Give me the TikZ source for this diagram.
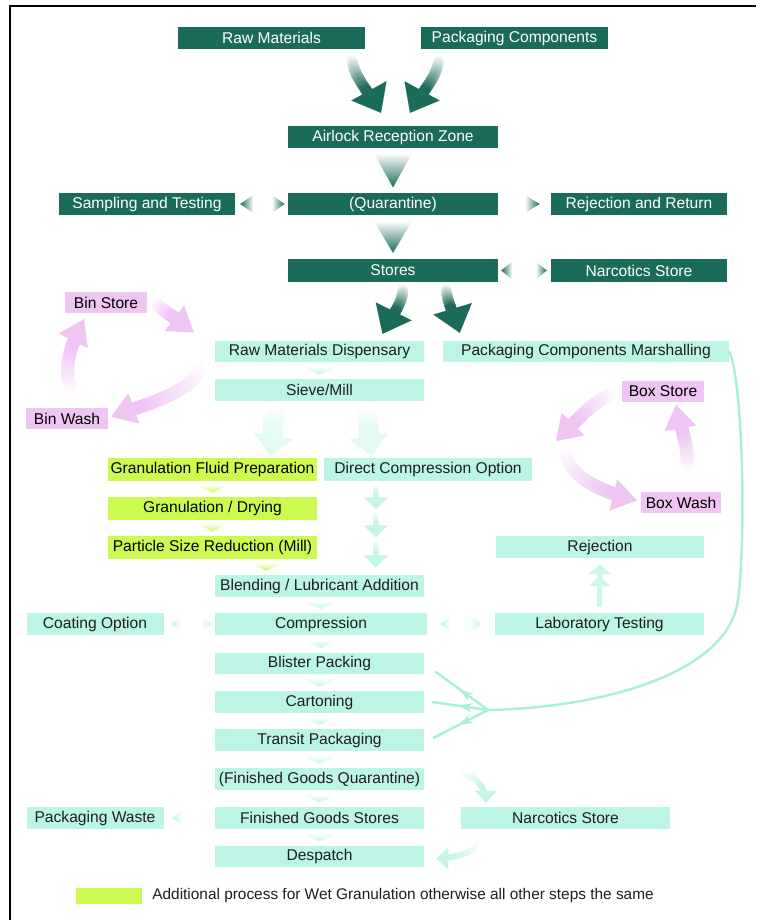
\documentclass[tikz,border=0pt]{standalone}
\usepackage{fontspec}
\setmainfont{Liberation Sans}
\usetikzlibrary{calc,positioning,arrows.meta,decorations.markings}

\definecolor{tealdark}{RGB}{27,107,91}
\definecolor{mintbox}{RGB}{188,245,229}
\definecolor{mintarrow}{RGB}{196,245,232}
\definecolor{mintline}{RGB}{172,240,220}
\definecolor{limebox}{RGB}{204,250,78}
\definecolor{pinkfill}{RGB}{239,197,243}
\definecolor{textgrey}{RGB}{30,30,30}

\begin{document}
\begin{tikzpicture}[x=1pt, y=-1pt,
    tbox/.style={rectangle, inner sep=0pt, minimum height=22pt,
        font=\fontsize{15.6}{18}\selectfont},
    darkbx/.style={tbox, fill=tealdark, text=white},
    mintbx/.style={tbox, fill=mintbox, text=textgrey},
    limebx/.style={tbox, fill=limebox, text=black},
    pinkbx/.style={tbox, fill=pinkfill, text=black, minimum height=21pt},
    % colour, shaft radius, head width, head length
    fadearrow/.style n args={4}{draw=#1, line width=0.01pt,
        -{Triangle[width=#3, length=#4]},
        postaction={decorate, decoration={markings,
            mark=between positions 0 and -#4 step 0.4pt with {
                \pgfmathsetmacro\fadepct{min(100,100*\pgfkeysvalueof{/pgf/decoration/mark info/distance from start}/(\pgfdecoratedpathlength-#4))}
                \fill[#1!\fadepct!white] (0,0) circle (#2);}}}},
    feedline/.style={draw=mintline, line width=2.5pt},
    midtip/.style={postaction={decorate, decoration={markings,
        mark=at position 0.55 with {\arrow{Stealth[length=15pt, width=9pt]}}}}}]

    \useasboundingbox (0,0) rectangle (756,920);
    \draw[line width=1.6pt] (10,920) -- (10,6) -- (756,6);

    % goods in
    \node[darkbx, minimum width=187pt] (raw) at (271.5,38) {Raw Materials};
    \node[darkbx, minimum width=187pt] (pack) at (514.5,38) {Packaging Components};
    \node[darkbx, minimum width=210pt] (airlock) at (393,137) {Airlock Reception Zone};
    \node[darkbx, minimum width=210pt] (quar) at (393,204) {(Quarantine)};
    \node[darkbx, minimum width=176pt] (samp) at (147,204) {Sampling and Testing};
    \node[darkbx, minimum width=176pt] (rejret) at (639,204) {Rejection and Return};
    \node[darkbx, minimum width=210pt, minimum height=23pt] (stores) at (393,270.5) {Stores};
    \node[darkbx, minimum width=176pt, minimum height=23pt] (narcup) at (639,270.5) {Narcotics Store};

    % dispensing
    \node[mintbx, minimum width=209pt, minimum height=21pt] (disp) at (319.5,351.5) {Raw Materials Dispensary};
    \node[mintbx, minimum width=286pt, minimum height=21pt] (marsh) at (586,351.5) {Packaging Components Marshalling};
    \node[mintbx, minimum width=209pt] (sieve) at (319.5,390) {Sieve/Mill};
    \node[pinkbx, minimum width=82pt] (binstore) at (106,302.5) {Bin Store};
    \node[pinkbx, minimum width=82pt] (binwash) at (67,418.5) {Bin Wash};
    \node[pinkbx, minimum width=82pt] (boxstore) at (663,391) {Box Store};
    \node[pinkbx, minimum width=80pt] (boxwash) at (681,502.5) {Box Wash};

    % wet granulation / direct compression
    \node[limebx, minimum width=209pt, minimum height=23pt] (gfp) at (212.5,469.5) {Granulation Fluid Preparation};
    \node[limebx, minimum width=209pt, minimum height=23pt] (gdry) at (212.5,508) {Granulation / Drying};
    \node[limebx, minimum width=209pt, minimum height=23pt] (psize) at (212.5,547) {Particle Size Reduction (Mill)};
    \node[mintbx, minimum width=208pt, minimum height=23pt] (dco) at (428,469.5) {Direct Compression Option};
    \node[mintbx, minimum width=208pt] (rejct) at (600,547) {Rejection};

    % tabletting and packing
    \node[mintbx, minimum width=209pt] (blend) at (319.5,586) {Blending / Lubricant Addition};
    \node[mintbx, minimum width=212pt] (compr) at (321,624) {Compression};
    \node[mintbx, minimum width=137pt] (coat) at (95,624) {Coating Option};
    \node[mintbx, minimum width=209pt] (lab) at (599.5,624) {Laboratory Testing};
    \node[mintbx, minimum width=209pt, minimum height=21pt] (blister) at (319.5,663.5) {Blister Packing};
    \node[mintbx, minimum width=209pt] (carton) at (319.5,702) {Cartoning};
    \node[mintbx, minimum width=209pt] (transit) at (319.5,740) {Transit Packaging};
    \node[mintbx, minimum width=209pt] (fgq) at (319.5,779) {(Finished Goods Quarantine)};
    \node[mintbx, minimum width=137pt] (waste) at (95,818) {Packaging Waste};
    \node[mintbx, minimum width=209pt] (fgs) at (319.5,818) {Finished Goods Stores};
    \node[mintbx, minimum width=209pt] (narclow) at (565.5,818) {Narcotics Store};
    \node[mintbx, minimum width=209pt, minimum height=21pt] (desp) at (319.5,856.5) {Despatch};

    % key
    \node[limebx, minimum width=66pt, minimum height=16pt] (legkey) at (109,896) {};
    \node[right=10pt of legkey, inner sep=0pt, text=textgrey,
        font=\fontsize{15.4}{18}\selectfont] (legtext)
        {Additional process for Wet Granulation otherwise all other steps the same};

    % big curved arrows
    \draw[fadearrow={tealdark}{5.5pt}{40pt}{25pt}] ($(raw.south east)+(-13,11)$)
        .. controls +(2,18) and +(-11,-20) .. ($(airlock.north)+(-12,-13)$);
    \draw[fadearrow={tealdark}{5.5pt}{40pt}{25pt}] ($(pack.south west)+(18,11)$)
        .. controls +(-2,18) and +(11,-20) .. ($(airlock.north)+(17,-13)$);
    \draw[fadearrow={tealdark}{5.5pt}{40pt}{25pt}] ($(stores.south)+(10,7)$)
        .. controls +(-1,16) and +(10,-20) .. ($(disp.north)+(63,-7)$);
    \draw[fadearrow={tealdark}{5.5pt}{40pt}{25pt}] ($(stores.south)+(53,7)$)
        .. controls +(2,16) and +(-6,-20) .. ($(marsh.north west)+(17,-8)$);
    \draw[fadearrow={mintarrow!45!white}{10pt}{40pt}{20pt}] ($(sieve.south)+(-46,12)$)
        .. controls +(0,12) and +(2,-12) .. ($(gfp.north east)+(-47,-2)$);
    \draw[fadearrow={mintarrow!45!white}{10pt}{40pt}{20pt}] ($(sieve.south)+(48,12)$)
        .. controls +(0,12) and +(-2,-12) .. ($(dco.north west)+(48,-2)$);

    % bin and box cycles
    \draw[fadearrow={pinkfill}{6.5pt}{32pt}{24pt}] ($(binstore.east)+(9,2)$)
        -- ($(disp.west)+(-21,-19)$);
    \draw[fadearrow={pinkfill}{6.5pt}{32pt}{24pt}] ($(disp.south west)+(-15,4)$)
        .. controls +(-3,26) and +(28,-10) .. ($(binwash.east)+(3,-2)$);
    \draw[fadearrow={pinkfill}{6.5pt}{32pt}{24pt}] ($(binwash.north)+(5,-18)$)
        .. controls +(-12,-25) and +(-8,16) .. ($(binstore.south)+(-22,6)$);
    \coordinate (boxbend) at (560,446);
    \draw[fadearrow={pinkfill}{6.5pt}{32pt}{24pt}] ($(boxstore.west)+(-9,3)$)
        .. controls +(-15,3) and +(18,-18) .. ($(boxbend)+(-4,-5)$);
    \draw[fadearrow={pinkfill}{6.5pt}{32pt}{24pt}] ($(boxbend)+(6,4)$)
        .. controls +(0,30) and +(-25,-6) .. ($(boxwash.west)+(-4,-2)$);
    \draw[fadearrow={pinkfill}{6.5pt}{32pt}{24pt}] ($(boxwash.north)+(6,-25)$)
        .. controls +(2,-20) and +(4,22) .. ($(boxstore.south)+(13,3)$);

    % chevrons between stacked boxes
    \foreach \a/\b/\c/\w/\h in {airlock/quar/tealdark/19/17, quar/stores/tealdark/19/16,
            disp/sieve/mintarrow/18/4, gfp/gdry/limebox/16/4, gdry/psize/limebox/16/4,
            psize/blend/limebox/17/4, blend/compr/mintarrow/18/4, compr/blister/mintarrow/18/4,
            blister/carton/mintarrow/18/4, carton/transit/mintarrow/18/4,
            transit/fgq/mintarrow/18/4, fgq/fgs/mintarrow/18/4, fgs/desp/mintarrow/18/4}
        \shade[top color=white, bottom color=\c]
            ($(\a.south)!0.5!(\b.north)+(-\w,-\h)$) -- ($(\a.south)!0.5!(\b.north)+(\w,-\h)$)
            -- ($(\a.south)!0.5!(\b.north)+(0,\h)$) -- cycle;

    % side chevrons
    \foreach \p/\ax/\bx/\lc/\rc/\h in {samp.east/5/18/tealdark/white/9,
            quar.west/-3/-16/white/tealdark/9, rejret.west/-11/-26/white/tealdark/9,
            stores.east/3/14/tealdark/white/9, narcup.west/-4/-15/white/tealdark/9,
            coat.east/7/18/mintarrow/white/8, compr.west/-3/-14/white/mintarrow/8,
            compr.east/13/24/mintarrow/white/8, lab.west/-13/-25/white/mintarrow/8,
            waste.east/8/19/mintarrow/white/8}
        \shade[left color=\lc, right color=\rc] ($(\p)+(\ax,0)$)
            -- ($(\p)+(\bx,-\h)$) -- ($(\p)+(\bx,\h)$) -- cycle;

    % direct compression route
    \coordinate (dcoout) at ($(dco.south west)+(52,0)$);
    \coordinate (blendin) at (dcoout |- blend.north);
    \foreach \s/\e in {0.05/0.3, 0.35/0.6, 0.65/0.92}
        \draw[fadearrow={mintarrow}{2.5pt}{24pt}{12pt}]
            ($(dcoout)!\s!(blendin)$) -- ($(dcoout)!\e!(blendin)$);

    % testing to rejection
    \draw[mintarrow!85!white, line width=5pt,
        -{Triangle[width=22pt, length=10pt, sep=2pt]Triangle[width=22pt, length=10pt]}]
        ($(lab.north)+(0,-6)$) -- ($(rejct.south)+(0,6)$);

    % packaging components feed
    \coordinate (bendpt) at (738,600);
    \coordinate (hub) at (488,710);
    \draw[feedline] (marsh.east) .. controls +(14,30) and +(8,-60) .. (bendpt)
        .. controls +(-10,75) and +(110,-2) .. (hub);
    \draw[feedline, midtip] (hub) -- ($(blister.east)+(11,8)$);
    \draw[feedline, midtip] (hub) -- ($(carton.east)+(8,0)$);
    \draw[feedline, midtip] (hub) -- ($(transit.east)+(9,-2)$);

    % narcotics loop
    \draw[fadearrow={mintarrow}{3pt}{22pt}{12pt}] ($(fgq.east)+(37,-4)$)
        .. controls +(15,0) and +(0,-15) .. ($(narclow.north west)+(25,-4)$);
    \draw[fadearrow={mintarrow}{3pt}{22pt}{12pt}] ($(narclow.south west)+(17,12)$)
        .. controls +(0,12) and +(15,0) .. ($(desp.east)+(12,2)$);
\end{tikzpicture}
\end{document}
